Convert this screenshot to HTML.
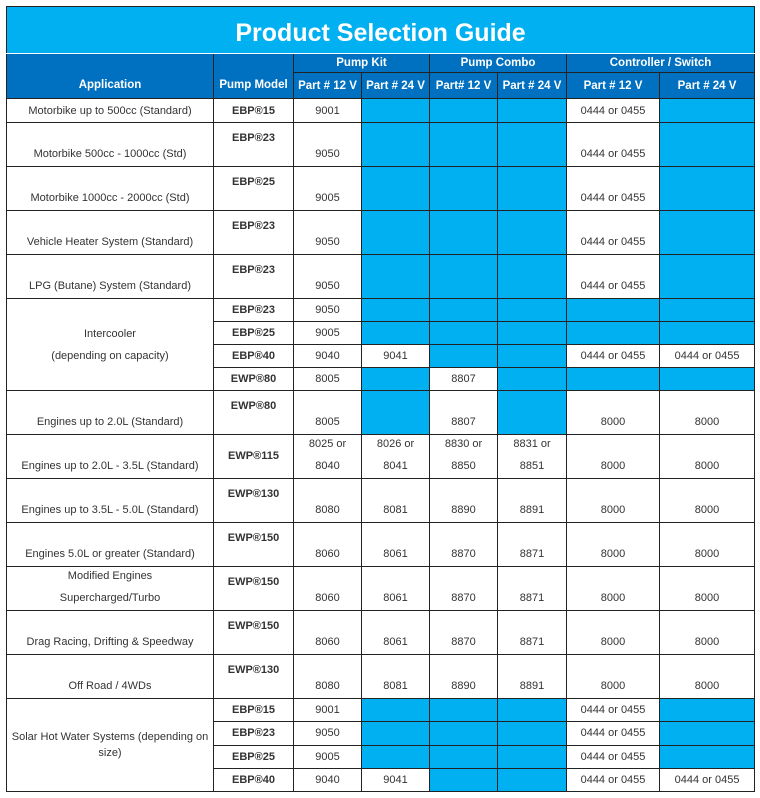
<!DOCTYPE html>
<html><head><meta charset="utf-8"><style>
body{margin:0;background:#fff;}
table{position:absolute;left:6px;top:6px;border-collapse:collapse;table-layout:fixed;width:749px;font-family:"Liberation Sans",sans-serif;font-size:11px;color:#333;}
td{border:1px solid #222;padding:0;text-align:center;white-space:nowrap;}
td>div{display:flex;flex-direction:column;align-items:center;justify-content:center;overflow:hidden;line-height:22px;}
.t{background:#00b0f0;color:#fff;font-weight:bold;font-size:25px;border-bottom:1px solid #fff}
.t>div{height:46px;padding-top:6px;box-sizing:border-box}
.h{background:#0070c0;color:#fff;font-weight:bold;font-size:11.5px;}
.b{background:#00b0f0;}
.m{font-weight:bold;}
tr.s td>div{height:22px;}
tr.L td>div{height:43px;justify-content:flex-end;box-sizing:border-box;padding-bottom:1px}
tr.L td.m>div{justify-content:flex-start;padding-top:8px;line-height:14px}
tr.L td.mc>div{justify-content:center;padding-top:0}
</style></head><body>
<table>
<colgroup><col style="width:207px"><col style="width:80px"><col style="width:68px"><col style="width:68px"><col style="width:68px"><col style="width:69px"><col style="width:93px"><col style="width:95px"></colgroup>
<tr><td class="t" colspan="8"><div>Product Selection Guide</div></td></tr>
<tr><td class="h" rowspan="2"><div style="height:44px;justify-content:flex-end;line-height:26px">Application</div></td><td class="h" rowspan="2"><div style="height:44px;justify-content:flex-end;line-height:26px">Pump Model</div></td><td class="h" colspan="2"><div style="height:18px;line-height:16px">Pump Kit</div></td><td class="h" colspan="2"><div style="height:18px;line-height:16px">Pump Combo</div></td><td class="h" colspan="2"><div style="height:18px;line-height:16px">Controller / Switch</div></td></tr>
<tr><td class="h"><div style="height:25px">Part # 12 V</div></td><td class="h"><div style="height:25px">Part # 24 V</div></td><td class="h"><div style="height:25px">Part# 12 V</div></td><td class="h"><div style="height:25px">Part # 24 V</div></td><td class="h"><div style="height:25px">Part # 12 V</div></td><td class="h"><div style="height:25px">Part # 24 V</div></td></tr>
<tr class="s"><td><div style="height:23px">Motorbike up to 500cc (Standard)</div></td><td class="m"><div style="height:23px">EBP®15</div></td><td><div style="height:23px">9001</div></td><td class="b"></td><td class="b"></td><td class="b"></td><td><div style="height:23px">0444 or 0455</div></td><td class="b"></td></tr>
<tr class="L"><td><div>Motorbike 500cc - 1000cc (Std)</div></td><td class="m"><div>EBP®23</div></td><td><div>9050</div></td><td class="b"></td><td class="b"></td><td class="b"></td><td><div>0444 or 0455</div></td><td class="b"></td></tr>
<tr class="L"><td><div>Motorbike 1000cc - 2000cc (Std)</div></td><td class="m"><div>EBP®25</div></td><td><div>9005</div></td><td class="b"></td><td class="b"></td><td class="b"></td><td><div>0444 or 0455</div></td><td class="b"></td></tr>
<tr class="L"><td><div>Vehicle Heater System (Standard)</div></td><td class="m"><div>EBP®23</div></td><td><div>9050</div></td><td class="b"></td><td class="b"></td><td class="b"></td><td><div>0444 or 0455</div></td><td class="b"></td></tr>
<tr class="L"><td><div>LPG (Butane) System (Standard)</div></td><td class="m"><div>EBP®23</div></td><td><div>9050</div></td><td class="b"></td><td class="b"></td><td class="b"></td><td><div>0444 or 0455</div></td><td class="b"></td></tr>
<tr class="s"><td rowspan="4"><div style="height:91px">Intercooler<br>(depending on capacity)</div></td><td class="m"><div>EBP®23</div></td><td><div>9050</div></td><td class="b"></td><td class="b"></td><td class="b"></td><td class="b"></td><td class="b"></td></tr>
<tr class="s"><td class="m"><div>EBP®25</div></td><td><div>9005</div></td><td class="b"></td><td class="b"></td><td class="b"></td><td class="b"></td><td class="b"></td></tr>
<tr class="s"><td class="m"><div>EBP®40</div></td><td><div>9040</div></td><td><div>9041</div></td><td class="b"></td><td class="b"></td><td><div>0444 or 0455</div></td><td><div>0444 or 0455</div></td></tr>
<tr class="s"><td class="m"><div>EWP®80</div></td><td><div>8005</div></td><td class="b"></td><td><div>8807</div></td><td class="b"></td><td class="b"></td><td class="b"></td></tr>
<tr class="L"><td><div>Engines up to 2.0L (Standard)</div></td><td class="m"><div>EWP®80</div></td><td><div>8005</div></td><td class="b"></td><td><div>8807</div></td><td class="b"></td><td><div>8000</div></td><td><div>8000</div></td></tr>
<tr class="L"><td><div>Engines up to 2.0L - 3.5L (Standard)</div></td><td class="m mc"><div>EWP®115</div></td><td><div>8025 or<br>8040</div></td><td><div>8026 or<br>8041</div></td><td><div>8830 or<br>8850</div></td><td><div>8831 or<br>8851</div></td><td><div>8000</div></td><td><div>8000</div></td></tr>
<tr class="L"><td><div>Engines up to 3.5L - 5.0L (Standard)</div></td><td class="m"><div>EWP®130</div></td><td><div>8080</div></td><td><div>8081</div></td><td><div>8890</div></td><td><div>8891</div></td><td><div>8000</div></td><td><div>8000</div></td></tr>
<tr class="L"><td><div>Engines 5.0L or greater (Standard)</div></td><td class="m"><div>EWP®150</div></td><td><div>8060</div></td><td><div>8061</div></td><td><div>8870</div></td><td><div>8871</div></td><td><div>8000</div></td><td><div>8000</div></td></tr>
<tr class="L"><td><div>Modified Engines<br>Supercharged/Turbo</div></td><td class="m"><div>EWP®150</div></td><td><div>8060</div></td><td><div>8061</div></td><td><div>8870</div></td><td><div>8871</div></td><td><div>8000</div></td><td><div>8000</div></td></tr>
<tr class="L"><td><div>Drag Racing, Drifting &amp; Speedway</div></td><td class="m"><div>EWP®150</div></td><td><div>8060</div></td><td><div>8061</div></td><td><div>8870</div></td><td><div>8871</div></td><td><div>8000</div></td><td><div>8000</div></td></tr>
<tr class="L"><td><div>Off Road / 4WDs</div></td><td class="m"><div>EWP®130</div></td><td><div>8080</div></td><td><div>8081</div></td><td><div>8890</div></td><td><div>8891</div></td><td><div>8000</div></td><td><div>8000</div></td></tr>
<tr class="s"><td rowspan="4"><div style="height:92px;white-space:normal;line-height:16px;padding:0 3px">Solar Hot Water Systems (depending on size)</div></td><td class="m"><div>EBP®15</div></td><td><div>9001</div></td><td class="b"></td><td class="b"></td><td class="b"></td><td><div>0444 or 0455</div></td><td class="b"></td></tr>
<tr class="s"><td class="m"><div>EBP®23</div></td><td><div>9050</div></td><td class="b"></td><td class="b"></td><td class="b"></td><td><div>0444 or 0455</div></td><td class="b"></td></tr>
<tr class="s"><td class="m"><div>EBP®25</div></td><td><div>9005</div></td><td class="b"></td><td class="b"></td><td class="b"></td><td><div>0444 or 0455</div></td><td class="b"></td></tr>
<tr class="s"><td class="m"><div>EBP®40</div></td><td><div>9040</div></td><td><div>9041</div></td><td class="b"></td><td class="b"></td><td><div>0444 or 0455</div></td><td><div>0444 or 0455</div></td></tr>
</table>
</body></html>
